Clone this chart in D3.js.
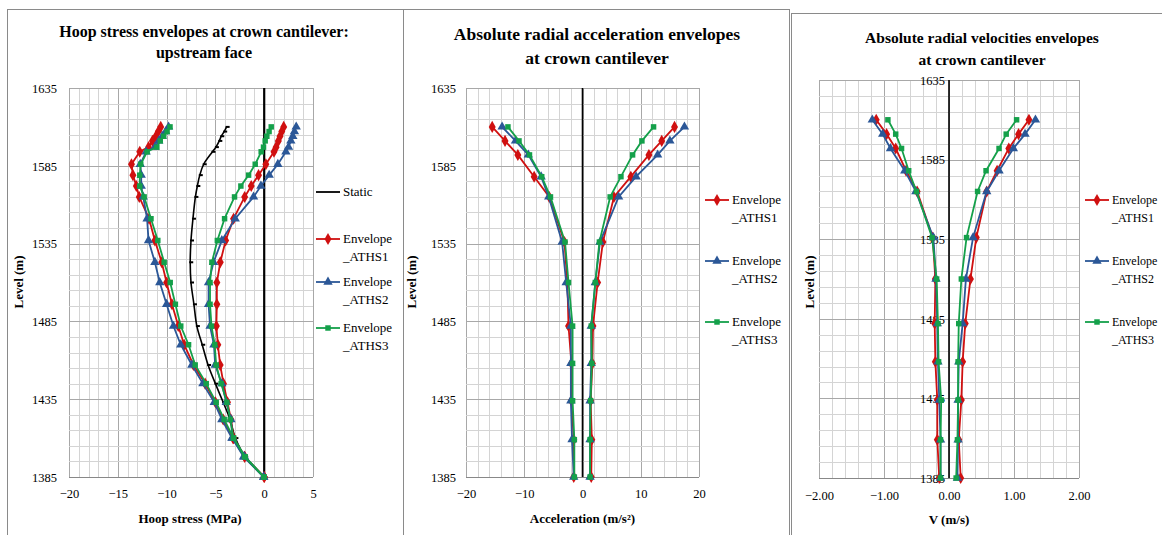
<!DOCTYPE html>
<html><head><meta charset="utf-8">
<script src="https://cdn.jsdelivr.net/npm/d3@7"></script>
<style>
body{margin:0;background:#fff;}
svg text{font-family:"Liberation Serif","DejaVu Serif",serif !important;}
</style></head>
<body><svg id="c" width="1162" height="535"></svg>
<script>
// ---------- DATA ----------
const levelsHoop = [1610,1607,1604,1601,1597,1594,1586,1579,1572,1565,1551,1537,1523,1510,1496,1482,1470,1457,1445,1433,1422,1410,1398,1385];
const hoopStatic   = [-3.85,-4.1,-4.4,-4.6,-4.95,-5.3,-6.2,-6.6,-6.85,-7.05,-7.3,-7.5,-7.58,-7.5,-7.2,-6.9,-6.35,-5.75,-5.0,-4.2,-3.5,-2.95,-1.95,0];
const hoopAths1Min = [-10.6,-10.85,-11.1,-11.45,-11.85,-12.75,-13.6,-13.45,-13.1,-12.8,-11.8,-11.2,-10.5,-10.0,-9.45,-8.8,-8.2,-7.25,-6.05,-5.0,-4.2,-3.2,-2.0,0];
const hoopAths1Max = [2.0,1.8,1.62,1.45,1.22,1.0,0.17,-0.58,-1.33,-2.0,-3.14,-3.95,-4.5,-4.85,-4.85,-4.9,-4.75,-4.51,-4.17,-3.76,-3.41,-3.14,-2.01,0];
const hoopAths2Min = [-9.8,-10.1,-10.45,-10.8,-11.2,-12.1,-12.7,-12.6,-12.6,-12.4,-12.0,-11.85,-11.2,-10.7,-10.0,-9.3,-8.55,-7.41,-6.28,-5.12,-4.34,-3.31,-2.01,-0.05];
const hoopAths2Max = [3.28,3.1,2.93,2.73,2.49,2.22,1.4,0.51,-0.34,-1.09,-2.97,-4.34,-5.19,-5.7,-5.7,-5.55,-5.15,-5.02,-4.34,-3.89,-3.41,-3.25,-2.12,-0.05];
const hoopAths3Min = [-9.65,-9.95,-10.3,-10.65,-11.0,-12.0,-12.65,-12.75,-12.75,-12.3,-11.6,-10.9,-10.25,-9.63,-9.1,-8.55,-7.75,-7.07,-5.94,-4.92,-4.1,-3.14,-1.95,0];
const hoopAths3Max = [0.72,0.5,0.27,0.1,-0.07,-0.31,-0.92,-1.6,-2.39,-3.04,-4.06,-4.8,-5.36,-5.55,-5.55,-5.4,-5.07,-4.92,-4.41,-3.82,-3.48,-3.14,-2.01,-0.05];

const levelsDyn = [1610,1601,1592,1578,1565,1536,1510,1482,1458,1434,1409,1385];
const accAths1Max = [15.8,13.6,11.4,8.3,5.4,3.5,2.6,1.8,1.7,1.4,1.6,1.5];
const accAths1Min = [-15.5,-13.3,-11.1,-8.3,-5.7,-3.1,-2.6,-2.4,-1.9,-1.9,-1.5,-1.5];
const accAths2Max = [17.5,15.0,12.9,9.2,6.2,3.0,2.2,1.5,1.5,1.3,1.3,1.3];
const accAths2Min = [-13.8,-11.5,-9.3,-7.1,-5.8,-3.5,-2.8,-2.0,-2.0,-2.0,-1.8,-1.5];
const accAths3Max = [12.2,10.2,8.6,6.6,4.75,2.9,2.2,1.5,1.6,1.4,1.3,1.3];
const accAths3Min = [-12.8,-10.9,-9.1,-7.0,-5.5,-3.0,-2.4,-1.7,-1.7,-1.7,-1.4,-1.4];

const velAths1Max = [1.23,1.07,0.92,0.74,0.58,0.42,0.33,0.25,0.21,0.19,0.15,0.18];
const velAths1Min = [-1.12,-0.96,-0.82,-0.66,-0.49,-0.25,-0.21,-0.22,-0.21,-0.18,-0.18,-0.15];
const velAths2Max = [1.33,1.17,0.99,0.77,0.58,0.37,0.26,0.21,0.15,0.14,0.14,0.13];
const velAths2Min = [-1.18,-1.02,-0.90,-0.68,-0.51,-0.24,-0.20,-0.18,-0.17,-0.15,-0.13,-0.13];
const velAths3Max = [1.04,0.88,0.77,0.57,0.44,0.27,0.19,0.15,0.14,0.14,0.13,0.11];
const velAths3Min = [-0.94,-0.82,-0.73,-0.62,-0.50,-0.26,-0.19,-0.17,-0.16,-0.12,-0.13,-0.13];

const levelTicks = [1385,1435,1485,1535,1585,1635];
const hoopTicks = [-20,-15,-10,-5,0,5];
const accTicks = [-20,-10,0,10,20];
const velTicks = [-2,-1,0,1,2];
const legendNames = ["Envelope\n_ATHS1","Envelope\n_ATHS2","Envelope\n_ATHS3"];

// ---------- DRAWING ----------
const FONT = "'Liberation Serif','DejaVu Serif',serif";
const svg = d3.select("#c");
const COL = {red:"#d01010", blue:"#2b5797", green:"#14a04a", black:"#000"};
const SYM = [d3.symbolDiamond, d3.symbolTriangle, d3.symbolSquare];
const SYMSIZE = [42, 38, 30];
const SCOL = [COL.red, COL.blue, COL.green];

// frames
svg.append("rect").attr("x",7.5).attr("y",9.5).attr("width",396).attr("height",540).attr("fill","none").attr("stroke","#8a8a8a");
svg.append("rect").attr("x",403.5).attr("y",9.5).attr("width",386).attr("height",540).attr("fill","none").attr("stroke","#8a8a8a");
svg.append("rect").attr("x",791.5).attr("y",13.5).attr("width",400).attr("height",540).attr("fill","none").attr("stroke","#8a8a8a");

function panel(o){
  const g = svg.append("g").attr("font-family",FONT);
  const x = d3.scaleLinear().domain(o.xDomain).range([o.left,o.right]);
  const y = d3.scaleLinear().domain([1385,1635]).range([o.bottom,o.top]);
  const xs = d3.range(o.xDomain[0], o.xDomain[1]+o.xStep/2, o.xStep);
  const ys = d3.range(1385, 1636, 10);
  g.selectAll(".vx").data(xs).join("line")
    .attr("x1",d=>Math.round(x(d))+0.5).attr("x2",d=>Math.round(x(d))+0.5)
    .attr("y1",o.top).attr("y2",o.bottom)
    .attr("stroke",d=>o.xTicks.some(t=>Math.abs(t-d)<1e-6)?"#a8a8a8":"#d4d4d4").attr("stroke-width",1);
  g.selectAll(".hy").data(ys).join("line")
    .attr("y1",d=>Math.round(y(d))+0.5).attr("y2",d=>Math.round(y(d))+0.5)
    .attr("x1",o.left).attr("x2",o.right)
    .attr("stroke",d=>levelTicks.includes(d)?"#a8a8a8":"#d4d4d4").attr("stroke-width",1);
  g.append("line").attr("x1",o.left).attr("x2",o.right).attr("y1",o.bottom+0.5).attr("y2",o.bottom+0.5).attr("stroke","#888");
  const xa = d3.axisBottom(x).tickValues(o.xTicks).tickSize(0).tickPadding(0).tickFormat(o.xFmt);
  const xg = g.append("g").attr("transform",`translate(0,${o.xLabY})`).call(xa);
  xg.attr("font-family",FONT);
  xg.select(".domain").remove();
  xg.selectAll("text").attr("font-family",FONT).attr("font-size",12.5).attr("fill","#000").attr("dy","0");
  const ya = d3.axisLeft(y).tickValues(levelTicks).tickSize(0).tickPadding(0).tickFormat(d3.format("d"));
  const yg = g.append("g").attr("transform",`translate(${o.yLabX},0)`).call(ya);
  yg.attr("font-family",FONT);
  yg.select(".domain").remove();
  yg.selectAll("text").attr("font-family",FONT).attr("font-size",12.5).attr("fill","#000").attr("dy","0.35em");
  g.append("line").attr("x1",x(0)).attr("x2",x(0)).attr("y1",o.top).attr("y2",o.bottom)
    .attr("stroke","#000").attr("stroke-width",o.zeroW);
  o.title.forEach((t,i)=>{
    g.append("text").attr("x",o.titleX).attr("y",o.titleY[i]).attr("text-anchor","middle")
      .attr("font-family",FONT).attr("font-weight","bold").attr("font-size",o.titleSize).text(t);
  });
  g.append("text").attr("x",(o.left+o.right)/2 + (o.xTitleDx||0)).attr("y",o.xTitleY).attr("text-anchor","middle")
    .attr("font-family",FONT).attr("font-weight","bold").attr("font-size",13).text(o.xTitle);
  g.append("text").attr("transform",`translate(${o.yTitleX},${o.yTitleY}) rotate(-90)`).attr("text-anchor","middle")
    .attr("font-family",FONT).attr("font-weight","bold").attr("font-size",13).text("Level (m)");

  const line = d3.line().x(d=>x(d[0])).y(d=>y(d[1]));
  if(o.staticVals){
    const pts = o.staticVals.map((v,i)=>[v,o.levels[i]]);
    g.append("path").attr("d",d3.line().x(d=>x(d[0])).y(d=>y(d[1])).curve(d3.curveCatmullRom)(pts))
      .attr("fill","none").attr("stroke","#000").attr("stroke-width",1.6);
    g.selectAll(".sm").data(pts).join("rect")
      .attr("x",d=>x(d[0])-1).attr("y",d=>y(d[1])-1).attr("width",4).attr("height",2).attr("fill","#000");
  }
  o.series.forEach((pair,si)=>{
    pair.forEach(vals=>{
      const pts = vals.map((v,i)=>[v,o.levels[i]]);
      g.append("path").attr("d",line(pts)).attr("fill","none").attr("stroke",SCOL[si]).attr("stroke-width",1.8);
      g.selectAll(null).data(pts).join("path")
        .attr("transform",d=>`translate(${x(d[0])},${y(d[1])})`)
        .attr("d",d3.symbol(SYM[si],SYMSIZE[si])).attr("fill",SCOL[si]);
    });
  });
  const lg = g.append("g");
  const lf = o.legFont || 13;
  if(o.legStatic){
    lg.append("line").attr("x1",o.legX).attr("x2",o.legX+24).attr("y1",o.legStatic).attr("y2",o.legStatic).attr("stroke","#000").attr("stroke-width",1.8);
    lg.append("text").attr("x",o.legX+27).attr("y",o.legStatic+4).attr("font-family",FONT).attr("font-size",lf).text("Static");
  }
  legendNames.forEach((nm,i)=>{
    const yy = o.legY[i];
    lg.append("line").attr("x1",o.legX).attr("x2",o.legX+24).attr("y1",yy).attr("y2",yy).attr("stroke",SCOL[i]).attr("stroke-width",1.8);
    lg.append("path").attr("transform",`translate(${o.legX+12},${yy})`).attr("d",d3.symbol(SYM[i],SYMSIZE[i])).attr("fill",SCOL[i]);
    nm.split("\n").forEach((t,k)=>{
      lg.append("text").attr("x",o.legX+27).attr("y",yy+4+k*18).attr("font-family",FONT).attr("font-size",lf).text(t);
    });
  });
}

panel({
  left:69,right:313,top:88,bottom:477, xDomain:[-20,5], xStep:1, xTicks:hoopTicks, xFmt:d3.format("d"),
  xLabY:498, yLabX:57, zeroW:2.2,
  title:["Hoop stress envelopes at crown cantilever:","upstream face"], titleX:204, titleY:[37,58], titleSize:16,
  xTitle:"Hoop stress (MPa)", xTitleY:523, xTitleDx:-1, yTitleX:23, yTitleY:282,
  levels:levelsHoop, staticVals:hoopStatic,
  series:[[hoopAths1Min,hoopAths1Max],[hoopAths2Min,hoopAths2Max],[hoopAths3Min,hoopAths3Max]],
  legX:316, legStatic:192, legY:[239,282,328]
});
panel({
  left:466,right:699,top:88,bottom:477, xDomain:[-20,20], xStep:2, xTicks:accTicks, xFmt:d3.format("d"),
  xLabY:498, yLabX:456, zeroW:1.6,
  title:["Absolute radial acceleration envelopes","at crown cantilever"], titleX:597, titleY:[40,64], titleSize:17.5,
  xTitle:"Acceleration (m/s²)", xTitleY:523, yTitleX:416, yTitleY:282,
  levels:levelsDyn,
  series:[[accAths1Min,accAths1Max],[accAths2Min,accAths2Max],[accAths3Min,accAths3Max]],
  legX:705, legY:[200,261,322]
});
panel({
  left:819,right:1079,top:80,bottom:478, xDomain:[-2,2], xStep:0.2, xTicks:velTicks, xFmt:d3.format(".2f"),
  xLabY:500, yLabX:945, zeroW:1.6,
  title:["Absolute radial velocities envelopes","at crown cantilever"], titleX:982, titleY:[43,65], titleSize:15.5,
  xTitle:"V (m/s)", xTitleY:524, yTitleX:814, yTitleY:282,
  levels:levelsDyn,
  series:[[velAths1Min,velAths1Max],[velAths2Min,velAths2Max],[velAths3Min,velAths3Max]],
  legX:1085, legY:[200,261,322], legFont:12
});
</script></body></html>
